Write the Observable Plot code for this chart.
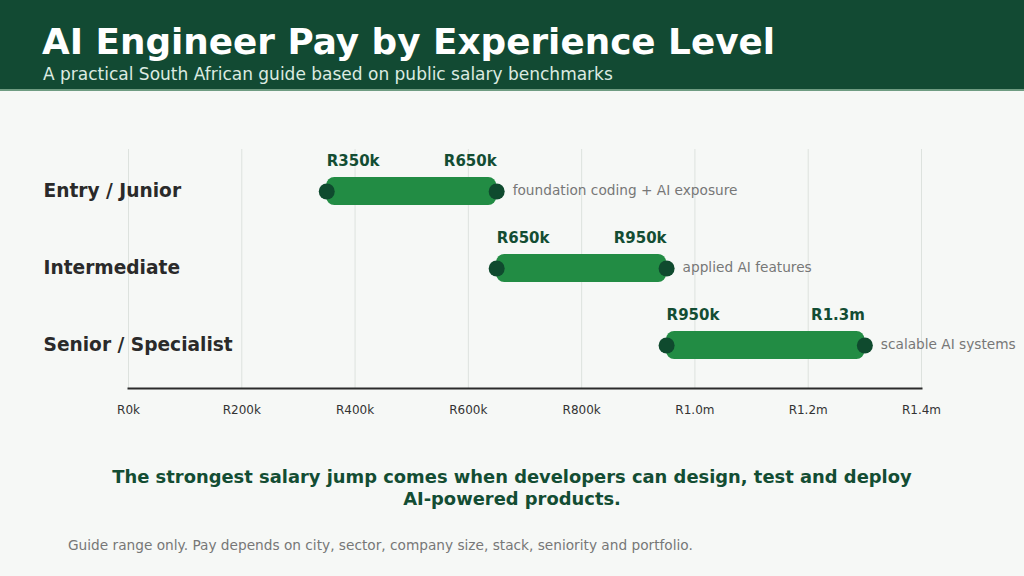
<!DOCTYPE html>
<html>
<head>
<meta charset="utf-8">
<script src="https://cdn.jsdelivr.net/npm/d3@7"></script>
<script src="https://cdn.jsdelivr.net/npm/@observablehq/plot@0.6"></script>
<style>
  html, body { margin: 0; padding: 0; background: #f6f8f6; }
  body { width: 1024px; height: 576px; overflow: hidden; font-family: "DejaVu Sans", sans-serif; }
  .header { background: #124a33; height: 89px; border-bottom: 2px solid #6f9c82; box-sizing: content-box; position: relative; }
  .title { position: absolute; left: 42px; top: 21px; color: #ffffff; font-weight: bold; font-size: 35.8px; white-space: nowrap; }
  .subtitle { position: absolute; left: 43px; top: 64px; color: #dcebe1; font-size: 17px; white-space: nowrap; }
  #chart { position: absolute; left: 0; top: 90px; }
  .takeaway { position: absolute; left: 0; width: 1024px; top: 466px; text-align: center; color: #134d33; font-weight: bold; font-size: 17.9px; line-height: 22px; }
  .takeaway > span { display: inline-block; width: 840px; }
  .nw { white-space: nowrap; }
  .note { position: absolute; left: 68px; top: 537px; color: #777777; font-size: 13.7px; white-space: nowrap; }
</style>
</head>
<body>
<div class="header">
  <div class="title">AI Engineer Pay by Experience Level</div>
  <div class="subtitle">A practical South African guide based on public salary benchmarks</div>
</div>
<div id="chart"></div>
<div class="takeaway"><span>The strongest salary jump comes when developers can design, test and deploy <span class="nw">AI-powered</span> products.</span></div>
<div class="note">Guide range only. Pay depends on city, sector, company size, stack, seniority and portfolio.</div>
<script>
const levels = ["Entry / Junior", "Intermediate", "Senior / Specialist"];
const lowPay = [350000, 650000, 950000];
const highPay = [650000, 950000, 1300000];
const lowLabels = ["R350k", "R650k", "R950k"];
const highLabels = ["R650k", "R950k", "R1.3m"];
const notes = ["foundation coding + AI exposure", "applied AI features", "scalable AI systems"];
const xTicks = [0, 200000, 400000, 600000, 800000, 1000000, 1200000, 1400000];
const xTickLabels = ["R0k", "R200k", "R400k", "R600k", "R800k", "R1.0m", "R1.2m", "R1.4m"];

const rows = levels.map((level, i) => ({
  level, low: lowPay[i], high: highPay[i],
  lowLabel: lowLabels[i], highLabel: highLabels[i], note: notes[i]
}));
const tickLabel = new Map(xTicks.map((t, i) => [t, xTickLabels[i]]));

const chart = Plot.plot({
  width: 1024,
  height: 340,
  marginLeft: 128,
  marginRight: 103,
  marginTop: 59,
  marginBottom: 42,
  style: { background: "transparent", fontFamily: "DejaVu Sans, sans-serif" },
  x: { domain: [0, 1400000], ticks: xTicks, tickFormat: d => tickLabel.get(d) },
  y: { domain: levels, paddingInner: 0.636, paddingOuter: 0.364, label: null },
  marks: [
    Plot.gridX(xTicks, { stroke: "#dde2de", strokeOpacity: 1, strokeWidth: 1 }),
    Plot.axisX({ ticks: xTicks, tickFormat: d => tickLabel.get(d), tickSize: 0, tickPadding: 17, fontSize: 12, fill: "#333333", label: null }),
    Plot.axisY({ tickSize: 0, tickPadding: 0, textAnchor: "start", dx: -85, fontSize: 18.6, fontWeight: "bold", fill: "#2a2a2a", label: null }),
    Plot.frame({ anchor: "bottom", stroke: "#2b2b2b", strokeWidth: 2 }),
    Plot.barX(rows, { x1: "low", x2: "high", y: "level", fill: "#228c44", rx: 8 }),
    Plot.dot(rows, { x: "low", y: "level", r: 8, fill: "#0f4a2e" }),
    Plot.dot(rows, { x: "high", y: "level", r: 8, fill: "#0f4a2e" }),
    Plot.text(rows, { x: "low", y: "level", text: "lowLabel", textAnchor: "start", dy: -30, fontSize: 15, fontWeight: "bold", fill: "#134d33" }),
    Plot.text(rows, { x: "high", y: "level", text: "highLabel", textAnchor: "end", dy: -30, fontSize: 15, fontWeight: "bold", fill: "#134d33" }),
    Plot.text(rows, { x: "high", y: "level", text: "note", textAnchor: "start", dx: 16, dy: -1, fontSize: 13.7, fill: "#777777" })
  ]
});
document.getElementById("chart").appendChild(chart);
</script>
</body>
</html>
